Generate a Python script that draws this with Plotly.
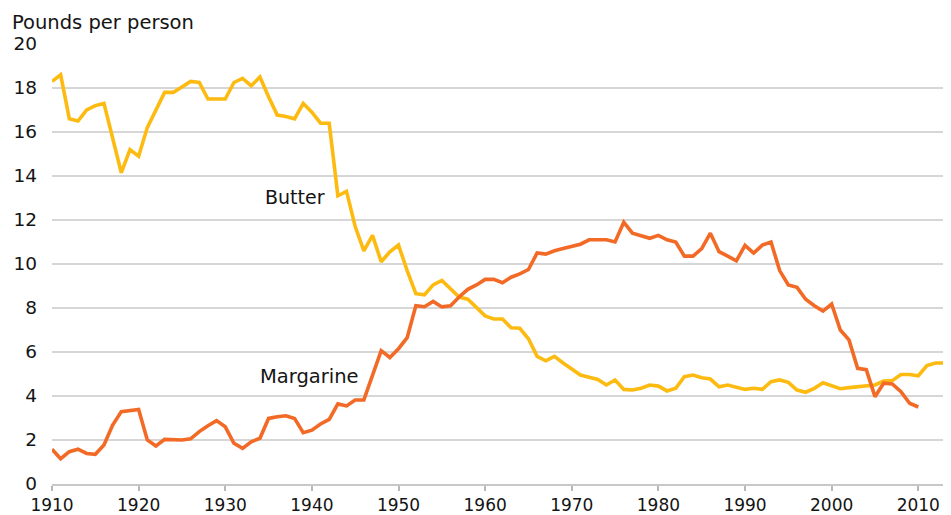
import plotly.graph_objects as go

years_butter = list(range(1910, 2014))
butter = [
    18.3, 18.6, 16.6, 16.5, 17.0, 17.2, 17.3, 15.7, 14.15, 15.2,   # 1910-1919
    14.9, 16.2, 17.0, 17.8, 17.8, 18.05, 18.3, 18.25, 17.5, 17.5,  # 1920-1929
    17.5, 18.25, 18.44, 18.1, 18.5, 17.6, 16.77, 16.7, 16.6, 17.3, # 1930-1939
    16.9, 16.4, 16.4, 13.1, 13.3, 11.7, 10.6, 11.3, 10.1, 10.55,   # 1940-1949
    10.86, 9.7, 8.65, 8.6, 9.05, 9.25, 8.9, 8.5, 8.4, 8.0,         # 1950-1959
    7.64, 7.5, 7.5, 7.1, 7.08, 6.6, 5.8, 5.6, 5.8, 5.5,            # 1960-1969
    5.2, 4.95, 4.85, 4.75, 4.5, 4.73, 4.3, 4.27, 4.35, 4.5,        # 1970-1979
    4.45, 4.23, 4.35, 4.88, 4.95, 4.83, 4.77, 4.42, 4.5, 4.42,     # 1980-1989
    4.3, 4.35, 4.3, 4.65, 4.73, 4.62, 4.27, 4.17, 4.35, 4.6,       # 1990-1999
    4.48, 4.33, 4.38, 4.42, 4.48, 4.5, 4.68, 4.7, 4.98, 4.98,      # 2000-2009
    4.92, 5.38, 5.5, 5.5,                                          # 2010-2013
]

years_margarine = list(range(1910, 2011))
margarine = [
    1.58, 1.15, 1.47, 1.58, 1.39, 1.35, 1.77, 2.68, 3.29, 3.33,    # 1910-1919
    3.39, 2.0, 1.73, 2.03, 2.0, 2.0, 2.05, 2.38, 2.65, 2.88,       # 1920-1929
    2.6, 1.85, 1.62, 1.92, 2.08, 2.98, 3.06, 3.1, 2.98, 2.33,      # 1930-1939
    2.45, 2.73, 2.94, 3.64, 3.55, 3.82, 3.82, 5.0, 6.06, 5.75,     # 1940-1949
    6.15, 6.65, 8.1, 8.06, 8.3, 8.05, 8.1, 8.5, 8.85, 9.05,        # 1950-1959
    9.3, 9.3, 9.15, 9.4, 9.55, 9.75, 10.5, 10.45, 10.6, 10.7,      # 1960-1969
    10.8, 10.9, 11.1, 11.1, 11.1, 11.0, 11.9, 11.4, 11.27, 11.17,  # 1970-1979
    11.3, 11.1, 11.0, 10.36, 10.36, 10.7, 11.4, 10.56, 10.36, 10.14, # 1980-1989
    10.85, 10.5, 10.86, 11.0, 9.7, 9.05, 8.94, 8.4, 8.1, 7.86,     # 1990-1999
    8.18, 7.0, 6.55, 5.26, 5.2, 3.97, 4.58, 4.55, 4.2, 3.67,       # 2000-2009
    3.5,                                                           # 2010
]

x_ticks = list(range(1910, 2011, 10))
y_ticks = list(range(0, 21, 2))

FONT = "DejaVu Sans"
TXT = "#141414"

fig = go.Figure()
fig.add_trace(go.Scatter(x=years_butter, y=butter, mode="lines", name="Butter",
                         line=dict(color="#FDBB12", width=3.6)))
fig.add_trace(go.Scatter(x=years_margarine, y=margarine, mode="lines", name="Margarine",
                         line=dict(color="#F26A25", width=3.6)))

# The page body has an 8px default margin, so the figure is sized to fit inside the window.
fig.update_layout(
    width=943, height=507,
    margin=dict(l=44, r=5, t=36, b=31, autoexpand=False),
    paper_bgcolor="white", plot_bgcolor="white",
    showlegend=False,
    font=dict(family=FONT, size=18, color=TXT),
    xaxis=dict(range=[1910, 2013.2], tickvals=x_ticks, ticktext=[str(v) for v in x_ticks],
               showgrid=False, zeroline=False, showline=True, linecolor="#c8c8c8",
               linewidth=2, ticks="outside", ticklen=5, tickwidth=2, tickcolor="#b8b8b8",
               tickfont=dict(size=17, color=TXT), fixedrange=True, automargin=False),
    yaxis=dict(range=[0, 20], tickvals=y_ticks, ticktext=[str(v) for v in y_ticks],
               showgrid=True, gridcolor="#d6d6d6", gridwidth=2, zeroline=False,
               showline=False, ticks="", ticklabelstandoff=14,
               tickfont=dict(size=18.5, color=TXT), fixedrange=True, automargin=False),
    annotations=[
        dict(text="Pounds per person", xref="paper", yref="paper", x=0, y=1,
             xanchor="left", yanchor="bottom", xshift=-42, yshift=8, showarrow=False,
             font=dict(size=19.5, color=TXT)),
        dict(text="Butter", x=1938.1, y=13.05, xref="x", yref="y", showarrow=False,
             font=dict(size=19, color=TXT)),
        dict(text="Margarine", x=1939.7, y=4.9, xref="x", yref="y", showarrow=False,
             font=dict(size=19.5, color=TXT)),
    ],
)

fig.write_html("out.html")
